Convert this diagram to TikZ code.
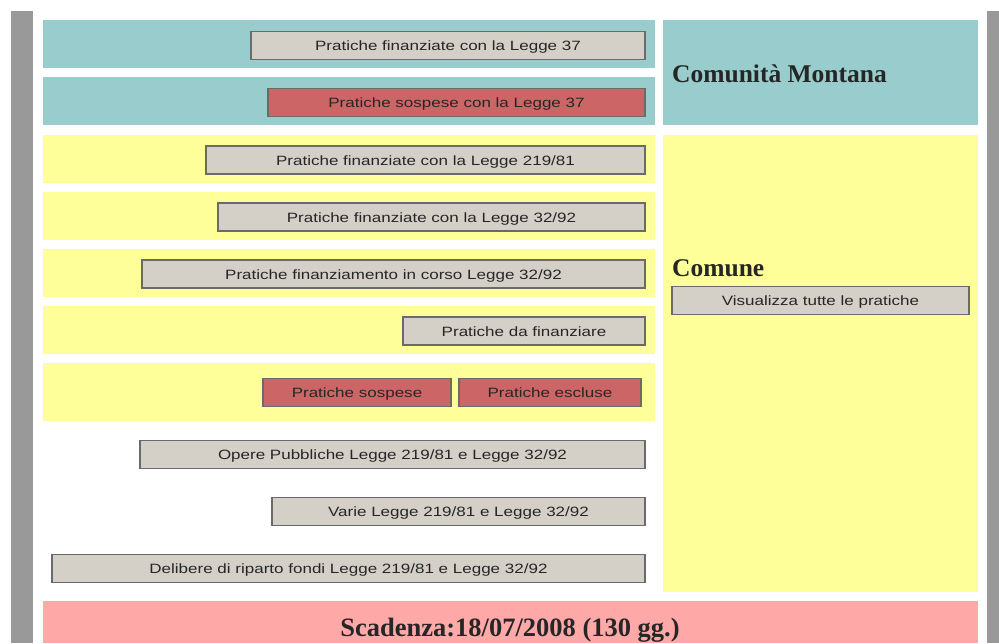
\documentclass[tikz,border=0pt]{standalone}
\usepackage{fontspec}
\newfontfamily\btnfont[FakeStretch=1.26]{Liberation Sans}
\newfontfamily\headfont{Liberation Serif}
\definecolor{teal1}{HTML}{99CCCC}
\definecolor{yell1}{HTML}{FFFF99}
\definecolor{pink1}{HTML}{FFA8A8}
\definecolor{btngray}{HTML}{D4D0C8}
\definecolor{btnred}{HTML}{CC6666}
\definecolor{bargray}{HTML}{999999}
\definecolor{btnborder}{HTML}{6A6A6A}
\tikzset{
  btn/.style={draw=btnborder, line width=1.3pt, fill=btngray, rectangle, inner sep=0pt,
    minimum height=28pt, text height=10pt, text depth=0pt,
    font=\btnfont\fontsize{13.5}{14}\selectfont, text=black!85},
  redbtn/.style={btn, fill=btnred},
  head/.style={anchor=base west, inner sep=0pt, font=\headfont\bfseries\fontsize{25.5}{30}\selectfont, text=black!85},
}
\begin{document}
\begin{tikzpicture}[x=1pt,y=-1pt]
\useasboundingbox (0,0) rectangle (999,643);
\fill[white] (0,0) rectangle (999,643);
% side bars
\fill[bargray] (11,11) rectangle (33,643);
\fill[bargray] (987,11) rectangle (999,643);
% teal panels
\fill[teal1] (43,20) rectangle (655,68);
\fill[teal1] (43,77) rectangle (655,125);
\fill[teal1] (663,20) rectangle (978,125);
% yellow panels
\fill[yell1] (43,135) rectangle (655,183);
\fill[yell1] (43,192) rectangle (655,240);
\fill[yell1] (43,249) rectangle (655,297);
\fill[yell1] (43,306) rectangle (655,354);
\fill[yell1] (43,363) rectangle (655,421);
\fill[yell1] (663,135) rectangle (978,592);
% pink bar
\fill[pink1] (43,601) rectangle (978,643);
% headings
\node[head] (cm) at (672,82) {Comunità Montana};
\node[head] (co) at (672,276) {Comune};
\node[head, anchor=base, font=\headfont\bfseries\fontsize{26.5}{30}\selectfont] (sc) at (510,636) {Scadenza:18/07/2008 (130 gg.)};
% buttons
\node[btn, minimum width=394pt] (b1) at (448,45.5) {Pratiche finanziate con la Legge 37};
\node[redbtn, minimum width=377pt] (b2) at (456.5,102.5) {Pratiche sospese con la Legge 37};
\node[btn, minimum width=439pt] (b3) at (425.5,160) {Pratiche finanziate con la Legge 219/81};
\node[btn, minimum width=427pt] (b4) at (431.5,217) {Pratiche finanziate con la Legge 32/92};
\node[btn, minimum width=503pt] (b5) at (393.5,274) {Pratiche finanziamento in corso Legge 32/92};
\node[btn, minimum width=242pt] (b6) at (524,331) {Pratiche da finanziare};
\node[redbtn, minimum width=188pt] (b7) at (357,392.5) {Pratiche sospese};
\node[redbtn, minimum width=182pt] (b8) at (550,392.5) {Pratiche escluse};
\node[btn, minimum width=505pt] (b9) at (392.5,454.5) {Opere Pubbliche Legge 219/81 e Legge 32/92};
\node[btn, minimum width=373pt] (b10) at (458.5,511.5) {Varie Legge 219/81 e Legge 32/92};
\node[btn, minimum width=593pt] (b11) at (348.5,568.5) {Delibere di riparto fondi Legge 219/81 e Legge 32/92};
\node[btn, minimum width=297pt] (b12) at (820.5,300.5) {Visualizza tutte le pratiche};
\end{tikzpicture}
\end{document}
